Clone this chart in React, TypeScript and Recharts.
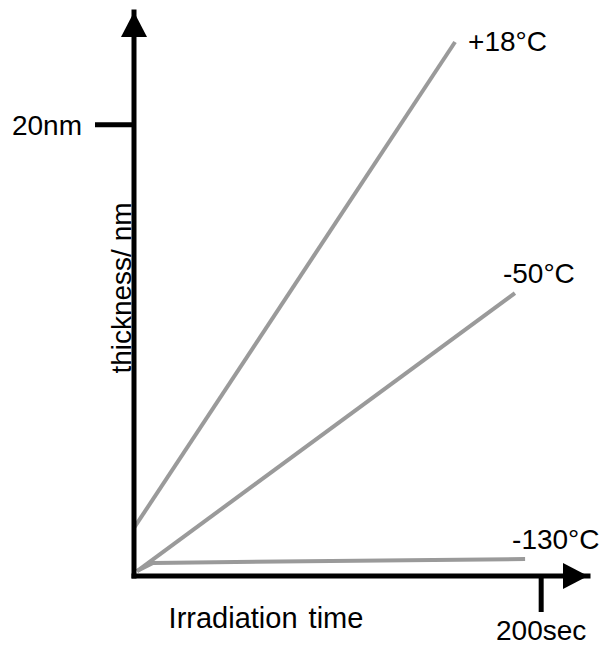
import React from 'react';
import {
  ComposedChart,
  Line,
  XAxis,
  YAxis,
  ReferenceDot,
} from 'recharts';

// time in sec, thickness in nm
const warmTimes = [0, 157.7];
const warmThickness = [2.13, 23.67];
const coldTimes = [1.5, 187.1];
const coldThickness = [0.22, 12.54];
const coldestTimes = [1.5, 9.3, 192.1];
const coldestThickness = [0.22, 0.58, 0.75];

const seriesNames = ['+18°C', '-50°C', '-130°C'];
const xTicks = [200];
const yTicks = [20];
const xMax = 223;
const yMax = 25;

const toRows = (ts: number[], vs: number[]) => ts.map((t, i) => ({ t, v: vs[i] }));

const series = [
  { name: seriesNames[0], data: toRows(warmTimes, warmThickness), dx: 13, dy: -1 },
  { name: seriesNames[1], data: toRows(coldTimes, coldThickness), dx: -12, dy: -20 },
  { name: seriesNames[2], data: toRows(coldestTimes, coldestThickness), dx: -13, dy: -20 },
];

const FONT = '"Liberation Sans", Arial, sans-serif';
const LINE_COLOR = '#9a9a9a';

const UpArrow = (props: any) => {
  const { cx, cy } = props;
  return <path d={`M${cx},${cy} L${cx + 13},${cy + 25} L${cx - 13},${cy + 25} Z`} fill="#000" />;
};

const RightArrow = (props: any) => {
  const { cx, cy } = props;
  return <path d={`M${cx},${cy} L${cx - 25},${cy - 13} L${cx - 25},${cy + 13} Z`} fill="#000" />;
};

const XTitle = (props: any) => {
  const vb = props.viewBox || { x: 134, y: 576 };
  return (
    <text x={vb.x + 132} y={vb.y + 42} textAnchor="middle" dominantBaseline="central"
      fontFamily={FONT} fontSize={29} fill="#000" wordSpacing={3}>
      Irradiation time
    </text>
  );
};

const YTitle = (props: any) => {
  const vb = props.viewBox || { x: 0, y: 12, width: 134 };
  const cx = vb.x + vb.width - 13;
  const cy = vb.y + 276;
  return (
    <text x={cx} y={cy} transform={`rotate(-90, ${cx}, ${cy})`} textAnchor="middle"
      dominantBaseline="central" fontFamily={FONT} fontSize={28} fill="#000">
      thickness/ nm
    </text>
  );
};

const endLabel = (name: string, last: number, dx: number, dy: number) => (props: any) => {
  const { x, y, index } = props;
  if (index !== last) return null;
  return (
    <text x={x + dx} y={y + dy} dominantBaseline="central" fontFamily={FONT}
      fontSize={28} fill="#000">
      {name}
    </text>
  );
};

const App: React.FC = () => {
  return (
    <div style={{ width: 603, height: 646 }}>
      <style>{'body{margin:0;}'}</style>
      <ComposedChart width={603} height={646} margin={{ top: 12, right: 15, bottom: 0, left: 0 }}>
        <XAxis
          type="number"
          dataKey="t"
          domain={[0, xMax]}
          ticks={xTicks}
          tickFormatter={(v) => `${v}sec`}
          height={70}
          tickSize={36}
          tickMargin={8}
          axisLine={{ stroke: '#000', strokeWidth: 5, strokeLinecap: 'square' }}
          tickLine={{ stroke: '#000', strokeWidth: 5 }}
          tick={{ fill: '#000', fontSize: 28, fontFamily: FONT }}
          label={<XTitle />}
        />
        <YAxis
          type="number"
          dataKey="v"
          domain={[0, yMax]}
          ticks={yTicks}
          tickFormatter={(v) => `${v}nm`}
          width={134}
          tickSize={39}
          tickMargin={13}
          axisLine={{ stroke: '#000', strokeWidth: 5, strokeLinecap: 'square' }}
          tickLine={{ stroke: '#000', strokeWidth: 5 }}
          tick={{ fill: '#000', fontSize: 28, fontFamily: FONT }}
          label={<YTitle />}
        />
        {series.map((s) => (
          <Line
            key={s.name}
            data={s.data}
            dataKey="v"
            type="linear"
            stroke={LINE_COLOR}
            strokeWidth={4}
            dot={false}
            activeDot={false}
            isAnimationActive={false}
            label={endLabel(s.name, s.data.length - 1, s.dx, s.dy)}
          />
        ))}
        <ReferenceDot x={0} y={yMax} ifOverflow="visible" shape={<UpArrow />} />
        <ReferenceDot x={xMax} y={0} ifOverflow="visible" shape={<RightArrow />} />
      </ComposedChart>
    </div>
  );
};

export default App;
